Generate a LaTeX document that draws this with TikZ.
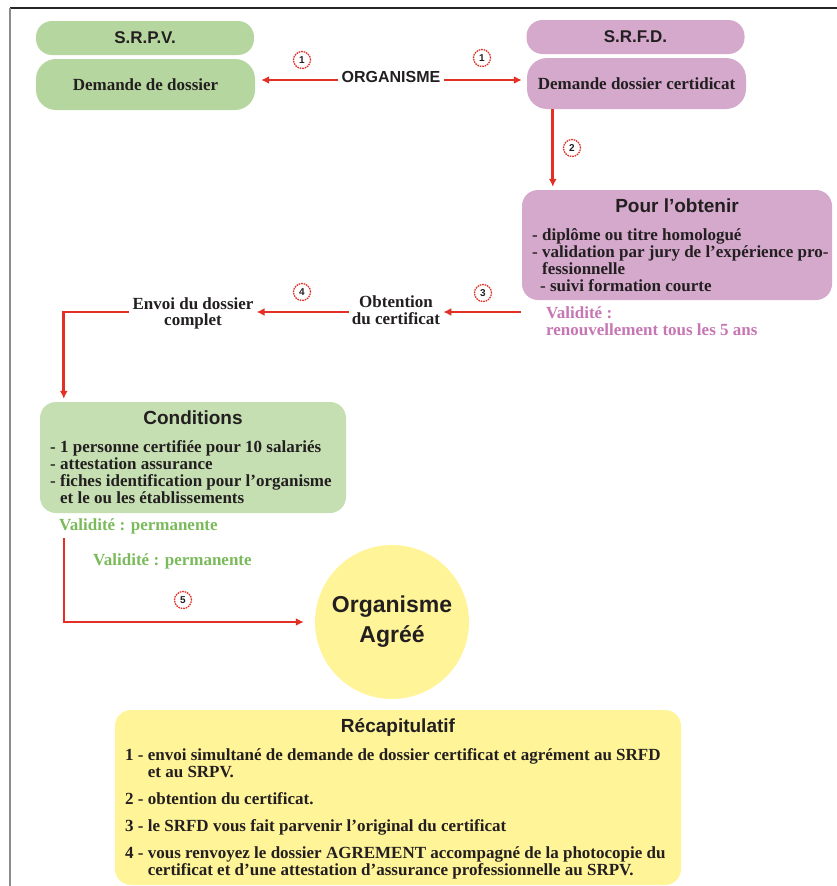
\documentclass[tikz,border=0pt]{standalone}
\usepackage{fontspec}
\setmainfont{Liberation Serif}
\setsansfont{Liberation Sans}
\usetikzlibrary{arrows.meta, positioning}
\definecolor{myred}{RGB}{226,48,38}
\definecolor{mydark}{RGB}{35,31,32}
\definecolor{mygreen}{RGB}{182,214,160}
\definecolor{condgreen}{RGB}{197,223,178}
\definecolor{mypurple}{RGB}{212,169,204}
\definecolor{txtpurple}{RGB}{198,118,178}
\definecolor{txtgreen}{RGB}{122,186,90}
\definecolor{myyellow}{RGB}{255,244,152}
\tikzset{
  greenbox/.style={rectangle, fill=mygreen, inner sep=0pt, text=mydark},
  purplebox/.style={rectangle, fill=mypurple, inner sep=0pt, text=mydark},
  hdr/.style={minimum width=218pt, minimum height=34pt, rounded corners=16pt,
    font=\sffamily\bfseries\fontsize{17}{17}\selectfont},
  dem/.style={minimum width=219pt, minimum height=51pt, rounded corners=20pt,
    font=\bfseries\fontsize{17}{17}\selectfont},
  bodytxt/.style={inner sep=0pt, align=left, text=mydark,
    font=\bfseries\fontsize{17}{17}\selectfont},
  midtxt/.style={inner sep=3pt, align=center, text=mydark,
    font=\bfseries\fontsize{17}{17}\selectfont},
  titletxt/.style={inner sep=0pt, text=mydark,
    font=\sffamily\bfseries\fontsize{19}{19}\selectfont},
  marker/.style={circle, draw=myred, dash pattern=on 1.6pt off 0.9pt,
    line width=1.3pt, minimum size=17pt, inner sep=0pt, text=mydark,
    font=\sffamily\bfseries\fontsize{10}{10}\selectfont},
  arrow/.style={-{Latex[length=8pt,width=8pt]}, line width=2.8pt, color=myred},
  line/.style={line width=2.8pt, color=myred}
}
\begin{document}
\begin{tikzpicture}[x=1pt, y=-1pt]
  \useasboundingbox (0,0) rectangle (837,886);
  % frame
  \draw[line width=1.8pt, color=black!85] (10,8) -- (837,8);
  \draw[line width=1.8pt, color=black!45] (10,8) -- (10,886);
  % services
  \node[greenbox, hdr] (srpvhdr) at (145,38) {S.R.P.V.};
  \node[greenbox, dem] (srpvbox) at (145.5,84.5) {Demande de dossier};
  \node[purplebox, hdr] (srfdhdr) at (635.5,37) {S.R.F.D.};
  \node[purplebox, dem] (srfdbox) at (636.5,83.5) {Demande dossier certidicat};
  \node[inner sep=3pt, text=mydark, font=\sffamily\bfseries\fontsize{16}{16}\selectfont]
    (organisme) at (391,77) {ORGANISME};
  % pour l'obtenir
  \node[purplebox, minimum width=310pt, minimum height=110pt, rounded corners=16pt]
    (pourbox) at (677,245) {};
  \node[titletxt, anchor=base] (pourtitle) at (677,212) {Pour l’obtenir};
  \node[bodytxt, anchor=north west] (pourtxt) at (532,228)
    {- diplôme ou titre homologué\\- validation par jury de l’expérience pro-\\
     \phantom{- }fessionnelle\\\hspace{8pt}- suivi formation courte};
  \node[bodytxt, anchor=north west, text=txtpurple] (pourvalid) at (546,306)
    {Validité :\\renouvellement tous les 5 ans};
  % steps
  \node[midtxt, anchor=north] (obtention) at (396,293) {Obtention\\du certificat};
  \node[midtxt, anchor=north] (envoi) at (193,294) {Envoi du dossier\\complet};
  % conditions
  \node[rectangle, fill=condgreen, minimum width=306pt, minimum height=111pt,
    rounded corners=16pt] (condbox) at (193,457.5) {};
  \node[titletxt, anchor=base] (condtitle) at (193,424) {Conditions};
  \node[bodytxt, anchor=north west] (condtxt) at (50,440)
    {- 1 personne certifiée pour 10 salariés\\- attestation assurance\\
     - fiches identification pour l’organisme\\\phantom{- }et le ou les établissements};
  \node[bodytxt, anchor=base west, text=txtgreen] (condvalid) at (59,530) {Validité : permanente};
  \node[bodytxt, anchor=base west, text=txtgreen] (condvalidb) at (93,565) {Validité : permanente};
  % agrement
  \node[circle, fill=myyellow, minimum size=154pt, inner sep=0pt, align=center, text=mydark,
    font=\sffamily\bfseries\fontsize{23}{30}\selectfont] (agree) at (392,622) {Organisme\\Agréé};
  % recapitulatif
  \node[rectangle, fill=myyellow, minimum width=566pt, minimum height=175pt,
    rounded corners=16pt] (recapbox) at (398,797.5) {};
  \node[titletxt, anchor=base] (recaptitle) at (398,732) {Récapitulatif};
  \node[bodytxt, anchor=north west] (recap1) at (125,748)
    {1 - envoi simultané de demande de dossier certificat et agrément au SRFD\\
     \phantom{1 - }et au SRPV.};
  \node[bodytxt, anchor=base west] (recap2) at (125,804) {2 - obtention du certificat.};
  \node[bodytxt, anchor=base west] (recap3) at (125,831) {3 - le SRFD vous fait parvenir l’original du certificat};
  \node[bodytxt, anchor=north west] (recap4) at (125,846)
    {4 - vous renvoyez le dossier AGREMENT accompagné de la photocopie du\\
     \phantom{4 - }certificat et d’une attestation d’assurance professionnelle au SRPV.};
  % markers
  \node[marker] (mk1) at (302,60) {1};
  \node[marker] (mk1b) at (482,58) {1};
  \node[marker] (mk2) at (572,148) {2};
  \node[marker] (mk3) at (483,293) {3};
  \node[marker] (mk4) at (302,292) {4};
  \node[marker] (mk5) at (183,600) {5};
  % connectors
  \coordinate (c3) at (521,312);
  \coordinate (c5) at (64,538);
  \draw[arrow, shorten >=6pt] ([yshift=-3pt]organisme.west) -- ([yshift=-3pt]organisme.west -| srpvbox.east);
  \draw[arrow, shorten >=5pt] ([yshift=-3pt]organisme.east) -- ([yshift=-3pt]organisme.east -| srfdbox.west);
  \draw[arrow, shorten >=3pt] ([xshift=26pt]srfdbox.south west) -- ([xshift=26pt]srfdbox.south west |- pourbox.north);
  \draw[arrow] (c3) -- (obtention.east |- c3);
  \draw[arrow] (obtention.west |- c3) -- (envoi.east |- c3);
  \draw[arrow, shorten >=3pt] (envoi.west |- c3) -| ([xshift=24pt]condbox.north west);
  \draw[arrow, shorten >=11pt] (c5) |- (agree.west);
\end{tikzpicture}
\end{document}
